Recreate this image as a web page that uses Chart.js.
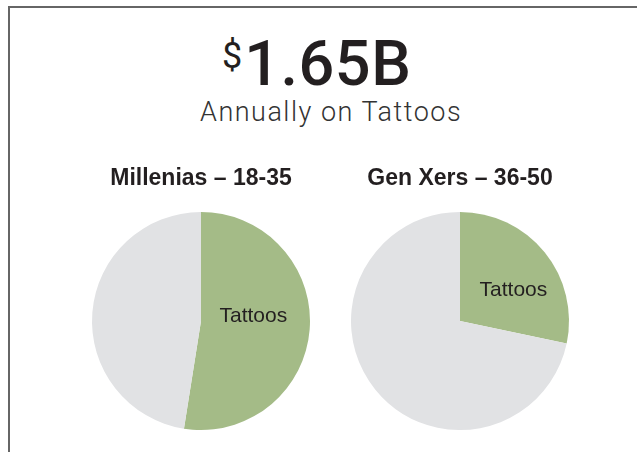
<!DOCTYPE html>
<html>
<head>
<meta charset="utf-8">
<script src="https://cdn.jsdelivr.net/npm/chart.js@4/dist/chart.umd.min.js"></script>
<style>
  html, body { margin: 0; padding: 0; background: #fff; width: 637px; height: 452px; overflow: hidden; }
  #frame {
    position: absolute; left: 8px; top: 6px; right: 0; bottom: 0;
    border-top: 2px solid #666; border-left: 2px solid #666;
  }
  #headline {
    position: absolute; left: 222px; top: 32px;
    font: 500 63px/63px Roboto, "Liberation Sans", Arial, sans-serif;
    letter-spacing: 0.5px; color: #231f20; white-space: nowrap;
  }
  #headline .cur {
    font-size: 36px; font-weight: 400; letter-spacing: 2px;
    position: relative; top: -17px;
  }
  #sub {
    position: absolute; left: 200px; top: 99px;
    font: 300 27px/27px Roboto, "Liberation Sans", sans-serif;
    letter-spacing: 1.5px; color: #333; white-space: nowrap;
  }
  .pie { position: absolute; top: 160px; width: 258px; height: 272px; }
  #pieA { left: 72px; }
  #pieB { left: 331px; }
</style>
</head>
<body>
<div id="frame"></div>
<div id="headline"><span class="cur">$</span>1.65B</div>
<div id="sub">Annually on Tattoos</div>
<div class="pie" id="pieA"><canvas id="chartA"></canvas></div>
<div class="pie" id="pieB"><canvas id="chartB"></canvas></div>
<script>
// share of spend, in percent
const sliceLabels = ['Tattoos', 'Other'];
const millenialsShare = [52.5, 47.5];
const genXShare = [28.3, 71.7];
const groupTitles = ['Millenias \u2013 18-35', 'Gen Xers \u2013 36-50'];

const GREEN = '#a4bb87';
const GREY = '#e1e2e4';

Chart.defaults.font.family = '"Liberation Sans", Arial, sans-serif';

// writes the first slice's name inside the pie, placed as a fraction of the radius
const sliceName = {
  id: 'sliceName',
  afterDatasetsDraw(chart, args, opts) {
    const arc = chart.getDatasetMeta(0).data[0];
    if (!arc) return;
    const {x, y, outerRadius} = arc.getProps(['x', 'y', 'outerRadius'], true);
    const c = chart.ctx;
    c.save();
    c.font = '21px "Liberation Sans", Arial, sans-serif';
    c.fillStyle = '#231f20';
    c.textAlign = 'center';
    c.textBaseline = 'middle';
    c.fillText(chart.data.labels[0], x + opts.fx * outerRadius, y + opts.fy * outerRadius);
    c.restore();
  }
};

function makePie(id, values, title, labelPos) {
  return new Chart(document.getElementById(id), {
    type: 'pie',
    data: {
      labels: sliceLabels,
      datasets: [{
        data: values,
        backgroundColor: [GREEN, GREY],
        borderWidth: 0,
        hoverOffset: 0,
        offset: 0
      }]
    },
    options: {
      responsive: true,
      maintainAspectRatio: false,
      animation: false,
      layout: { padding: { top: 0, bottom: 2, left: 0, right: 0 } },
      plugins: {
        legend: { display: false },
        tooltip: { enabled: false },
        title: {
          display: true,
          text: title,
          color: '#231f20',
          font: { size: 23, weight: 'bold' },
          padding: { top: 5, bottom: 19.4 }
        },
        sliceName: labelPos
      }
    },
    plugins: [sliceName]
  });
}

makePie('chartA', millenialsShare, groupTitles[0], { fx: 0.48, fy: -0.04 });
makePie('chartB', genXShare, groupTitles[1], { fx: 0.49, fy: -0.28 });
</script>
</body>
</html>
